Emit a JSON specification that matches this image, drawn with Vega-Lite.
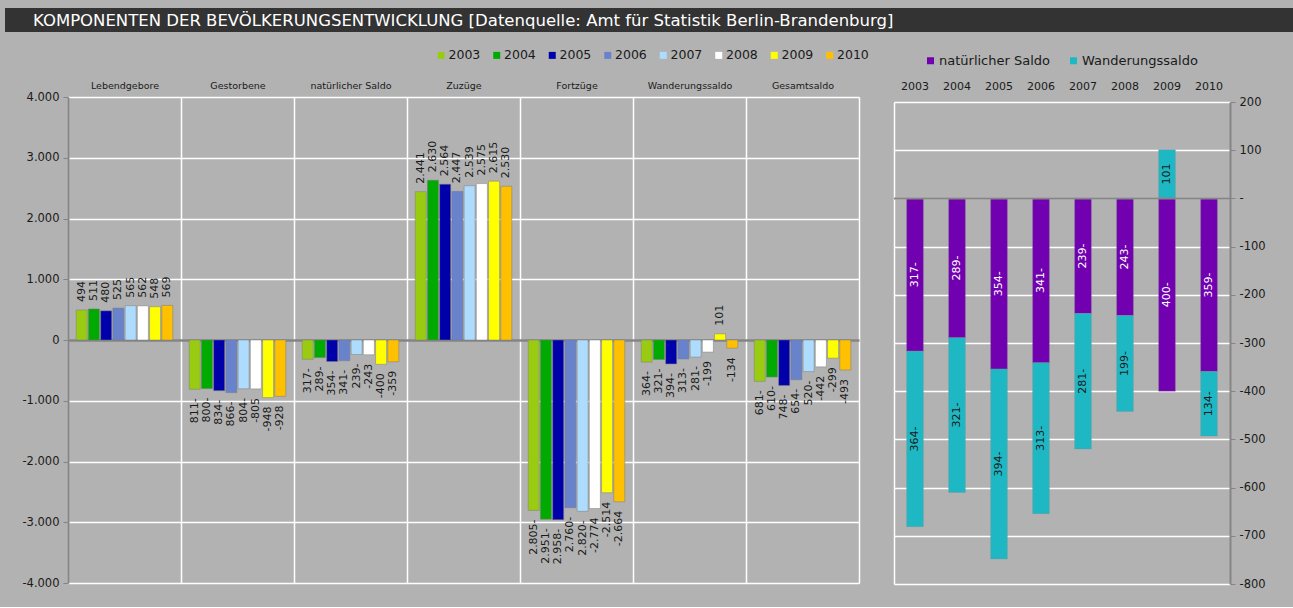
{
  "$schema": "https://vega.github.io/schema/vega-lite/v6.json",
  "background": "#b2b2b2",
  "padding": {"left": 5, "top": 8, "right": 0, "bottom": 17},
  "config": {
    "font": "DejaVu Sans",
    "view": {"stroke": "white", "strokeWidth": 1.5},
    "axis": {"labelColor": "#1a1a1a", "labelFont": "DejaVu Sans"},
    "legend": {"labelColor": "#1a1a1a", "labelFont": "DejaVu Sans"}
  },
  "datasets": {
    "titletext": [{"t": "KOMPONENTEN DER BEVÖLKERUNGSENTWICKLUNG [Datenquelle: Amt für Statistik Berlin-Brandenburg]"}],
    "left": [
      {"cat": "Lebendgebore", "year": "2003", "value": 494, "label": "494"},
      {"cat": "Lebendgebore", "year": "2004", "value": 511, "label": "511"},
      {"cat": "Lebendgebore", "year": "2005", "value": 480, "label": "480"},
      {"cat": "Lebendgebore", "year": "2006", "value": 525, "label": "525"},
      {"cat": "Lebendgebore", "year": "2007", "value": 565, "label": "565"},
      {"cat": "Lebendgebore", "year": "2008", "value": 562, "label": "562"},
      {"cat": "Lebendgebore", "year": "2009", "value": 548, "label": "548"},
      {"cat": "Lebendgebore", "year": "2010", "value": 569, "label": "569"},
      {"cat": "Gestorbene", "year": "2003", "value": -811, "label": "811-"},
      {"cat": "Gestorbene", "year": "2004", "value": -800, "label": "800-"},
      {"cat": "Gestorbene", "year": "2005", "value": -834, "label": "834-"},
      {"cat": "Gestorbene", "year": "2006", "value": -866, "label": "866-"},
      {"cat": "Gestorbene", "year": "2007", "value": -804, "label": "804-"},
      {"cat": "Gestorbene", "year": "2008", "value": -805, "label": "-805"},
      {"cat": "Gestorbene", "year": "2009", "value": -948, "label": "-948"},
      {"cat": "Gestorbene", "year": "2010", "value": -928, "label": "-928"},
      {"cat": "natürlicher Saldo", "year": "2003", "value": -317, "label": "317-"},
      {"cat": "natürlicher Saldo", "year": "2004", "value": -289, "label": "289-"},
      {"cat": "natürlicher Saldo", "year": "2005", "value": -354, "label": "354-"},
      {"cat": "natürlicher Saldo", "year": "2006", "value": -341, "label": "341-"},
      {"cat": "natürlicher Saldo", "year": "2007", "value": -239, "label": "239-"},
      {"cat": "natürlicher Saldo", "year": "2008", "value": -243, "label": "-243"},
      {"cat": "natürlicher Saldo", "year": "2009", "value": -400, "label": "-400"},
      {"cat": "natürlicher Saldo", "year": "2010", "value": -359, "label": "-359"},
      {"cat": "Zuzüge", "year": "2003", "value": 2441, "label": "2.441"},
      {"cat": "Zuzüge", "year": "2004", "value": 2630, "label": "2.630"},
      {"cat": "Zuzüge", "year": "2005", "value": 2564, "label": "2.564"},
      {"cat": "Zuzüge", "year": "2006", "value": 2447, "label": "2.447"},
      {"cat": "Zuzüge", "year": "2007", "value": 2539, "label": "2.539"},
      {"cat": "Zuzüge", "year": "2008", "value": 2575, "label": "2.575"},
      {"cat": "Zuzüge", "year": "2009", "value": 2615, "label": "2.615"},
      {"cat": "Zuzüge", "year": "2010", "value": 2530, "label": "2.530"},
      {"cat": "Fortzüge", "year": "2003", "value": -2805, "label": "2.805-"},
      {"cat": "Fortzüge", "year": "2004", "value": -2951, "label": "2.951-"},
      {"cat": "Fortzüge", "year": "2005", "value": -2958, "label": "2.958-"},
      {"cat": "Fortzüge", "year": "2006", "value": -2760, "label": "2.760-"},
      {"cat": "Fortzüge", "year": "2007", "value": -2820, "label": "2.820-"},
      {"cat": "Fortzüge", "year": "2008", "value": -2774, "label": "-2.774"},
      {"cat": "Fortzüge", "year": "2009", "value": -2514, "label": "-2.514"},
      {"cat": "Fortzüge", "year": "2010", "value": -2664, "label": "-2.664"},
      {"cat": "Wanderungssaldo", "year": "2003", "value": -364, "label": "364-"},
      {"cat": "Wanderungssaldo", "year": "2004", "value": -321, "label": "321-"},
      {"cat": "Wanderungssaldo", "year": "2005", "value": -394, "label": "394-"},
      {"cat": "Wanderungssaldo", "year": "2006", "value": -313, "label": "313-"},
      {"cat": "Wanderungssaldo", "year": "2007", "value": -281, "label": "281-"},
      {"cat": "Wanderungssaldo", "year": "2008", "value": -199, "label": "-199"},
      {"cat": "Wanderungssaldo", "year": "2009", "value": 101, "label": "101"},
      {"cat": "Wanderungssaldo", "year": "2010", "value": -134, "label": "-134"},
      {"cat": "Gesamtsaldo", "year": "2003", "value": -681, "label": "681-"},
      {"cat": "Gesamtsaldo", "year": "2004", "value": -610, "label": "610-"},
      {"cat": "Gesamtsaldo", "year": "2005", "value": -748, "label": "748-"},
      {"cat": "Gesamtsaldo", "year": "2006", "value": -654, "label": "654-"},
      {"cat": "Gesamtsaldo", "year": "2007", "value": -520, "label": "520-"},
      {"cat": "Gesamtsaldo", "year": "2008", "value": -442, "label": "-442"},
      {"cat": "Gesamtsaldo", "year": "2009", "value": -299, "label": "-299"},
      {"cat": "Gesamtsaldo", "year": "2010", "value": -493, "label": "-493"}
    ],
    "right": [
      {"year": "2003", "series": "natürlicher Saldo", "value": -317, "label": "317-"},
      {"year": "2004", "series": "natürlicher Saldo", "value": -289, "label": "289-"},
      {"year": "2005", "series": "natürlicher Saldo", "value": -354, "label": "354-"},
      {"year": "2006", "series": "natürlicher Saldo", "value": -341, "label": "341-"},
      {"year": "2007", "series": "natürlicher Saldo", "value": -239, "label": "239-"},
      {"year": "2008", "series": "natürlicher Saldo", "value": -243, "label": "243-"},
      {"year": "2009", "series": "natürlicher Saldo", "value": -400, "label": "400-"},
      {"year": "2010", "series": "natürlicher Saldo", "value": -359, "label": "359-"},
      {"year": "2003", "series": "Wanderungssaldo", "value": -364, "label": "364-"},
      {"year": "2004", "series": "Wanderungssaldo", "value": -321, "label": "321-"},
      {"year": "2005", "series": "Wanderungssaldo", "value": -394, "label": "394-"},
      {"year": "2006", "series": "Wanderungssaldo", "value": -313, "label": "313-"},
      {"year": "2007", "series": "Wanderungssaldo", "value": -281, "label": "281-"},
      {"year": "2008", "series": "Wanderungssaldo", "value": -199, "label": "199-"},
      {"year": "2009", "series": "Wanderungssaldo", "value": 101, "label": "101"},
      {"year": "2010", "series": "Wanderungssaldo", "value": -134, "label": "134-"}
    ],
    "zero": [{"v": 0}]
  },
  "columns": 1,
  "align": "none",
  "spacing": 17,
  "concat": [
    {
      "width": 1288,
      "height": 24,
      "view": {"fill": "#333333", "stroke": null},
      "data": {"name": "titletext"},
      "mark": {"type": "text", "align": "left", "baseline": "middle", "dx": 28, "dy": 1, "color": "white", "fontSize": 16.5, "font": "DejaVu Sans"},
      "encoding": {
        "x": {"datum": 0, "type": "quantitative", "scale": {"domain": [0, 1]}, "axis": null},
        "text": {"field": "t"}
      }
    },
    {
      "columns": 2,
      "spacing": 24,
      "align": "none",
      "resolve": {"scale": {"color": "independent"}, "legend": {"color": "independent"}},
      "concat": [
        {
          "width": 854,
          "height": 486,
          "view": {"stroke": null},
          "layer": [
            {
              "data": {"name": "left"},
              "mark": {"type": "bar", "stroke": "#7a7a7a", "strokeWidth": 0.8, "strokeOpacity": 0.6},
              "encoding": {
                "x": {
                  "field": "cat", "type": "nominal", "sort": null,
                  "scale": {"range": [63, 854], "paddingInner": 0, "paddingOuter": 0},
                  "axis": {
                    "orient": "top", "title": null, "labelAngle": 0, "ticks": false, "domain": false,
                    "grid": true, "tickBand": "extent", "gridColor": "white", "gridWidth": 1.5,
                    "labelFontSize": 9.5, "labelPadding": 7
                  }
                },
                "xOffset": {"field": "year", "type": "nominal", "scale": {"paddingInner": 0.1, "paddingOuter": 0.67}},
                "y": {
                  "field": "value", "type": "quantitative",
                  "scale": {"domain": [-4000, 4000], "nice": false, "zero": false},
                  "axis": {
                    "title": null,
                    "offset": -63,
                    "values": [-4000, -3000, -2000, -1000, 0, 1000, 2000, 3000, 4000],
                    "labelExpr": "datum.value == 0 ? '0' : (datum.value < 0 ? '-' : '') + replace(format(abs(datum.value), ','), ',', '.')",
                    "grid": true,
                    "gridColor": {"condition": {"test": "datum.value === 0", "value": "#858585"}, "value": "white"},
                    "gridWidth": {"condition": {"test": "datum.value === 0", "value": 2.5}, "value": 1.5},
                    "domainColor": "#858585", "domainWidth": 2,
                    "tickColor": "#858585", "tickSize": 5,
                    "labelFontSize": 11.5, "labelPadding": 4
                  }
                },
                "color": {
                  "field": "year", "type": "nominal",
                  "scale": {
                    "domain": ["2003", "2004", "2005", "2006", "2007", "2008", "2009", "2010"],
                    "range": ["#99cc11", "#00aa00", "#0000aa", "#6883cc", "#addcff", "#ffffff", "#ffff00", "#ffc000"]
                  },
                  "legend": {
                    "title": null, "orient": "none", "legendX": 430, "legendY": -48,
                    "direction": "horizontal", "symbolType": "square", "symbolSize": 49,
                    "symbolStrokeWidth": 0, "labelFontSize": 12.5, "labelOffset": 1,
                    "columnPadding": 9.5, "padding": 0
                  }
                }
              }
            },
            {
              "data": {"name": "left"},
              "transform": [{"filter": "datum.value >= 0"}],
              "mark": {"type": "text", "angle": 270, "align": "left", "baseline": "middle", "dx": 8, "fontSize": 11, "color": "#1a1a1a"},
              "encoding": {
                "x": {"field": "cat", "type": "nominal", "sort": null},
                "xOffset": {"field": "year", "type": "nominal"},
                "y": {"field": "value", "type": "quantitative"},
                "text": {"field": "label"}
              }
            },
            {
              "data": {"name": "left"},
              "transform": [{"filter": "datum.value < 0"}],
              "mark": {"type": "text", "angle": 270, "align": "right", "baseline": "middle", "dx": -9, "fontSize": 11, "color": "#1a1a1a"},
              "encoding": {
                "x": {"field": "cat", "type": "nominal", "sort": null},
                "xOffset": {"field": "year", "type": "nominal"},
                "y": {"field": "value", "type": "quantitative"},
                "text": {"field": "label"}
              }
            }
          ]
        },
        {
          "width": 336,
          "height": 487,
          "view": {"stroke": null},
          "resolve": {"axis": {"y": "independent"}},
          "layer": [
            {
              "data": {"name": "right"},
              "mark": {"type": "bar", "stroke": "#8a8a8a", "strokeWidth": 0.6, "strokeOpacity": 0.5},
              "encoding": {
                "x": {
                  "field": "year", "type": "nominal",
                  "scale": {"paddingInner": 0.6, "paddingOuter": 0.3},
                  "axis": {"orient": "top", "title": null, "labelAngle": 0, "ticks": false, "domain": false, "labelFontSize": 11, "labelPadding": 5.5}
                },
                "y": {
                  "field": "value", "type": "quantitative", "stack": "zero",
                  "scale": {"domain": [-800, 200], "range": [487, 5], "nice": false, "zero": false},
                  "axis": {
                    "orient": "right", "title": null,
                    "values": [-800, -700, -600, -500, -400, -300, -200, -100, 0, 100, 200],
                    "labelExpr": "datum.value == 0 ? '-' : (datum.value < 0 ? '-' : '') + format(abs(datum.value), 'd')",
                    "grid": true, "gridColor": "white", "gridWidth": 1.5,
                    "domainColor": "#858585", "domainWidth": 2,
                    "tickColor": "#858585", "tickSize": 5,
                    "labelFontSize": 11.5, "labelPadding": 4
                  }
                },
                "color": {
                  "field": "series", "type": "nominal",
                  "scale": {"domain": ["natürlicher Saldo", "Wanderungssaldo"], "range": ["#7000b0", "#1eb8c4"]},
                  "legend": {
                    "title": null, "orient": "none", "legendX": 30, "legendY": -43, "padding": 0,
                    "direction": "horizontal", "symbolType": "square", "symbolSize": 49,
                    "symbolStrokeWidth": 0, "labelFontSize": 13, "labelOffset": 2, "columnPadding": 16
                  }
                },
                "order": {"field": "series", "sort": "descending"}
              }
            },
            {
              "data": {"name": "right"},
              "mark": {"type": "text", "angle": 270, "align": "center", "baseline": "middle", "fontSize": 11},
              "encoding": {
                "x": {"field": "year", "type": "nominal"},
                "y": {
                  "field": "value", "type": "quantitative", "stack": "zero", "bandPosition": 0.5,
                  "axis": {"orient": "left", "title": null, "labels": false, "ticks": false, "grid": false, "domainColor": "white", "domainWidth": 1.5}
                },
                "detail": {"field": "series"},
                "order": {"field": "series", "sort": "descending"},
                "text": {"field": "label"},
                "color": {"condition": {"test": "datum.series === 'natürlicher Saldo'", "value": "white"}, "value": "#1a1a1a"}
              }
            },
            {
              "data": {"name": "zero"},
              "mark": {"type": "rule", "color": "#858585", "strokeWidth": 2},
              "encoding": {"y": {"field": "v", "type": "quantitative", "axis": null}}
            }
          ]
        }
      ]
    }
  ]
}
